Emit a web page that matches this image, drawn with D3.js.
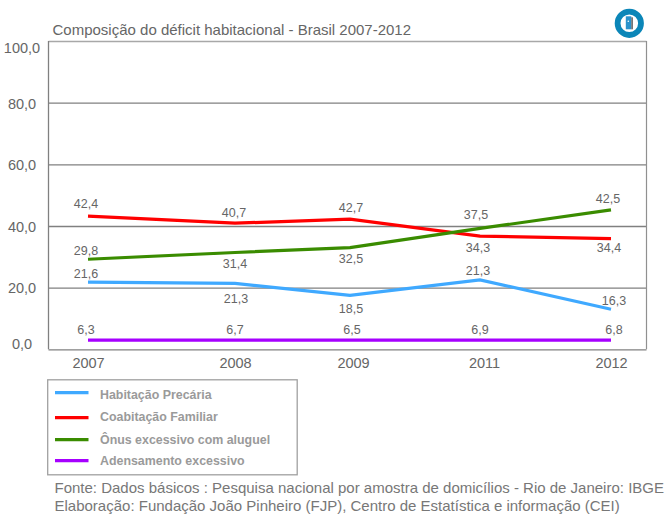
<!DOCTYPE html>
<html>
<head>
<meta charset="utf-8">
<script src="https://cdn.jsdelivr.net/npm/d3@7"></script>
<style>
  body { margin: 0; background: #fff; }
  text { font-family: "Liberation Sans", Arial, sans-serif; }
</style>
</head>
<body>
<div id="chart"></div>
<script>
// data
var years = ["2007", "2008", "2009", "2011", "2012"];
var yTicks = [0, 20, 40, 60, 80, 100];

// drawn values (the lines in the picture do not sit exactly on their printed labels)
var habitacao = [21.8, 21.4, 17.5, 22.5, 13.0];
var coabitacao = [43.2, 40.9, 42.2, 36.7, 35.9];
var onus = [29.2, 31.4, 33.0, 39.2, 45.2];
var adensamento = [3.0, 3.0, 3.0, 3.0, 3.0];

// printed labels
var habitacaoLabels = ["21,6", "21,3", "18,5", "21,3", "16,3"];
var coabitacaoLabels = ["42,4", "40,7", "42,7", "34,3", "34,4"];
var onusLabels = ["29,8", "31,4", "32,5", "37,5", "42,5"];
var adensamentoLabels = ["6,3", "6,7", "6,5", "6,9", "6,8"];

var seriesNames = ["Habitação Precária", "Coabitação Familiar", "Ônus excessivo com aluguel", "Adensamento excessivo"];
var titleText = "Composição do déficit habitacional - Brasil 2007-2012";
var sourceLines = [
  "Fonte: Dados básicos : Pesquisa nacional por amostra de domicílios - Rio de Janeiro: IBGE",
  "Elaboração: Fundação João Pinheiro (FJP), Centro de Estatística e informação (CEI)"
];

// styles and label placement, same order as seriesNames
var colors = ["#3fa9ff", "#ff0000", "#3a8c00", "#a600ff"];
var labelDx = [[-2, 1, 1, -2, 3], [-2, -1, 1, -2, -2], [-2, 0, 1, -4, -3], [-2, 0, 2, 0, 3]];
var labelDy = [[-4, 20, 18, -5, -4], [-8, -6, -7, 16, 13], [-4, 16, 15, -9, -7], [-6, -6, -6, -6, -6]];
var legendTextDy = [6.3, 3.3, 4.3, 4.3];
var yTickDy = { 0: -1, 20: 5, 40: 6, 60: 5, 80: 6, 100: 11 };

var series = [
  { name: seriesNames[0], values: habitacao, labels: habitacaoLabels },
  { name: seriesNames[1], values: coabitacao, labels: coabitacaoLabels },
  { name: seriesNames[2], values: onus, labels: onusLabels },
  { name: seriesNames[3], values: adensamento, labels: adensamentoLabels }
];

var svg = d3.select("#chart")
  .append("svg")
    .attr("width", 669)
    .attr("height", 529)
    .style("display", "block");

// scales, the years are not evenly spaced in the original
var x = d3.scaleOrdinal().domain(years).range([88, 235, 350, 480, 611]);
var xLabel = d3.scaleOrdinal().domain(years).range([88, 235, 353, 484, 611]);
var y = d3.scaleLinear().domain([0, 100]).range([349.3, 41]);

var plotLeft = 48.5, plotRight = 646.5;

// title
svg.append("text")
  .attr("x", 52.5).attr("y", 34.5)
  .attr("font-size", 15).attr("fill", "#666")
  .text(titleText);

// Y axis with gridlines
var yAxis = svg.append("g")
  .attr("transform", "translate(" + plotLeft + ",0)")
  .call(d3.axisLeft(y)
    .tickValues(yTicks)
    .tickSize(-(plotRight - plotLeft))
    .tickFormat(function(d) { return d3.format(".1f")(d).replace(".", ","); }));
yAxis.select(".domain").remove();
yAxis.selectAll("line").attr("stroke", "#808080").attr("stroke-width", 1.3);
yAxis.selectAll("line").filter(function(d) { return d === 100; }).attr("stroke", "#a8a8a8");
yAxis.selectAll("text")
  .attr("x", -26.5)
  .attr("dy", 0)
  .attr("y", function(d) { return yTickDy[d]; })
  .attr("text-anchor", "middle")
  .attr("font-size", 14.5)
  .attr("font-family", "Liberation Sans")
  .attr("fill", "#666");

// plot frame sides
svg.append("line")
  .attr("x1", plotLeft).attr("x2", plotLeft)
  .attr("y1", y(100)).attr("y2", y(0))
  .attr("stroke", "#808080").attr("stroke-width", 1.3);
svg.append("line")
  .attr("x1", plotRight).attr("x2", plotRight)
  .attr("y1", y(100)).attr("y2", y(0))
  .attr("stroke", "#909090").attr("stroke-width", 1.2);

// X axis
var xAxis = svg.append("g")
  .attr("transform", "translate(0," + y(0) + ")")
  .call(d3.axisBottom(xLabel).tickSize(0));
xAxis.select(".domain").remove();
xAxis.selectAll("text")
  .attr("y", 0).attr("dy", 18.4)
  .attr("font-size", 14.5)
  .attr("font-family", "Liberation Sans")
  .attr("fill", "#666");

// lines
var line = d3.line()
  .x(function(d, i) { return x(years[i]); })
  .y(function(d) { return y(d); });

series.forEach(function(s, k) {
  svg.append("path")
    .datum(s.values)
    .attr("d", line)
    .attr("fill", "none")
    .attr("stroke", colors[k])
    .attr("stroke-width", 3.2);
});

// value labels
series.forEach(function(s, k) {
  svg.append("g").selectAll("text")
    .data(s.labels)
    .enter()
    .append("text")
      .attr("x", function(d, i) { return x(years[i]) + labelDx[k][i]; })
      .attr("y", function(d, i) { return y(s.values[i]) + labelDy[k][i]; })
      .attr("text-anchor", "middle")
      .attr("font-size", 12.5)
      .attr("fill", "#666")
      .text(function(d) { return d; });
});

// legend
var legendY = d3.scaleOrdinal().domain(seriesNames).range([392.7, 417.7, 439.7, 460.7]);
svg.append("rect")
  .attr("x", 47.7).attr("y", 379.8)
  .attr("width", 249.5).attr("height", 95)
  .attr("fill", "none").attr("stroke", "#a0a0a0").attr("stroke-width", 1.3);
var legend = svg.append("g").selectAll("g")
  .data(series)
  .enter()
  .append("g");
legend.append("line")
  .attr("x1", 55).attr("x2", 88.5)
  .attr("y1", function(d) { return legendY(d.name); })
  .attr("y2", function(d) { return legendY(d.name); })
  .attr("stroke", function(d, i) { return colors[i]; })
  .attr("stroke-width", 3.2);
legend.append("text")
  .attr("x", 100)
  .attr("y", function(d, i) { return legendY(d.name) + legendTextDy[i]; })
  .attr("font-size", 12.4)
  .attr("font-weight", "bold")
  .attr("fill", "#9a9a9a")
  .text(function(d) { return d.name; });

// source note
svg.append("g").selectAll("text")
  .data(sourceLines)
  .enter()
  .append("text")
    .attr("x", 54.5)
    .attr("y", function(d, i) { return 493.3 + i * 17.4; })
    .attr("font-size", 15)
    .attr("fill", "#777")
    .text(function(d) { return d; });

// logo: blue ring with a small door
var logo = svg.append("g").attr("transform", "translate(629.3,23.3)");
logo.append("circle")
  .attr("r", 11.7)
  .attr("fill", "#fff").attr("stroke", "#0b86b8").attr("stroke-width", 5.8);
logo.append("rect")
  .attr("x", -3.5).attr("y", -7).attr("width", 5.5).attr("height", 13)
  .attr("fill", "#2a93cc");
logo.append("rect")
  .attr("x", 2).attr("y", -6).attr("width", 1.6).attr("height", 12)
  .attr("fill", "#666");
logo.append("circle")
  .attr("cx", -1).attr("cy", -2).attr("r", 0.8)
  .attr("fill", "#fff");
</script>
</body>
</html>
